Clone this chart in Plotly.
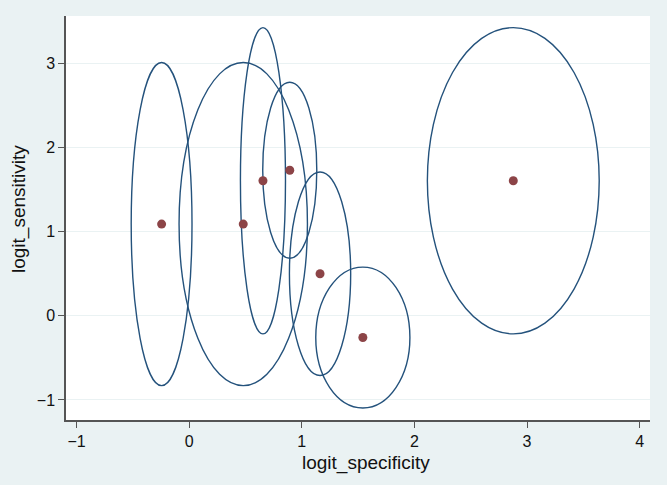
import plotly.graph_objects as go

# Study estimates (logit scale) and ellipse semi-axes
logit_specificity = [-0.245, 0.48, 0.655, 0.893, 1.162, 1.542, 2.878]
logit_sensitivity = [1.09, 1.09, 1.605, 1.73, 0.50, -0.258, 1.605]
semi_x = [0.27, 0.57, 0.20, 0.24, 0.272, 0.418, 0.763]
semi_y = [1.92, 1.92, 1.82, 1.045, 1.21, 0.837, 1.82]

x_ticks = [-1, 0, 1, 2, 3, 4]
y_ticks = [-1, 0, 1, 2, 3]
x_tick_text = ["\u22121", "0", "1", "2", "3", "4"]
y_tick_text = ["\u22121", "0", "1", "2", "3"]
x_title = "logit_specificity"
y_title = "logit_sensitivity"

NAVY = "#24527C"
MAROON = "#8C4447"
BG = "#EAF2F3"
AXIS = "#555555"
TXT = "#111111"
FONT = "Liberation Sans, Arial, Helvetica, sans-serif"

fig = go.Figure()

shapes = []
for cx, cy, sx, sy in zip(logit_specificity, logit_sensitivity, semi_x, semi_y):
    shapes.append(dict(type="circle", xref="x", yref="y",
                       x0=cx - sx, x1=cx + sx, y0=cy - sy, y1=cy + sy,
                       line=dict(color=NAVY, width=1.4), layer="between"))

fig.add_trace(go.Scatter(
    x=logit_specificity, y=logit_sensitivity, mode="markers",
    marker=dict(color=MAROON, size=9, line=dict(width=0)),
    showlegend=False, hoverinfo="x+y"))

fig.update_layout(
    width=667, height=485,
    margin=dict(l=66, r=17, t=16, b=65, autoexpand=False),
    paper_bgcolor=BG, plot_bgcolor="white",
    font=dict(family=FONT, color=TXT),
    shapes=shapes,
    showlegend=False,
    annotations=[
        dict(text=x_title, xref="paper", yref="paper", x=0.514, y=-0.1064,
             xanchor="center", yanchor="middle", showarrow=False,
             font=dict(size=19, family=FONT, color=TXT)),
        dict(text=y_title, xref="paper", yref="paper", x=-0.0813, y=0.521,
             xanchor="center", yanchor="middle", showarrow=False, textangle=-90,
             font=dict(size=19, family=FONT, color=TXT)),
    ],
)

fig.update_xaxes(
    range=[-1.094, 4.092], tickvals=x_ticks, ticktext=x_tick_text,
    showgrid=False, zeroline=False, automargin=False,
    showline=True, linecolor=AXIS, linewidth=1.5,
    ticks="outside", ticklen=6, tickwidth=1.2, tickcolor=AXIS,
    tickfont=dict(size=16, family=FONT, color=TXT),
)
fig.update_yaxes(
    range=[-1.238, 3.563], tickvals=y_ticks, ticktext=y_tick_text,
    showgrid=True, gridcolor=BG, gridwidth=1.2, zeroline=False, automargin=False,
    showline=True, linecolor=AXIS, linewidth=1.5,
    ticks="outside", ticklen=6, tickwidth=1.2, tickcolor=AXIS,
    tickfont=dict(size=16, family=FONT, color=TXT),
)

fig.write_html("out.html", config={"displayModeBar": False},
               post_script="document.body.style.margin='0';document.body.style.background='%s';" % BG)
